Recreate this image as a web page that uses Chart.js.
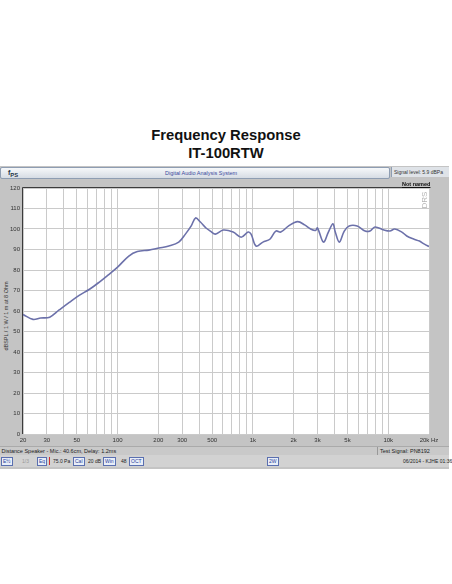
<!DOCTYPE html>
<html>
<head>
<meta charset="utf-8">
<script src="https://cdn.jsdelivr.net/npm/chart.js@4.4.0/dist/chart.umd.min.js"></script>
<style>
    body { margin: 0; width: 452px; height: 584px; background: #fff; font-family: "Liberation Sans", Arial, sans-serif; position: relative; overflow: hidden; }
    .title { position: absolute; top: 126px; left: 0; width: 452px; text-align: center; font-weight: bold; font-size: 14.8px; line-height: 18px; color: #111; }
    .win { position: absolute; top: 166px; left: 0; width: 449px; height: 303px; background: #c4c4c4; }
    .bar { position: absolute; top: 167px; left: 0; width: 388px; height: 10px; background: linear-gradient(#f6f8fa, #d6dce4); border: 1px solid #8e9db2; border-radius: 2px; }
    .bar span { position: absolute; left: 164px; top: 2px; font-size: 5.5px; color: #3a4a9c; white-space: nowrap; }
    .sig { position: absolute; top: 167px; left: 391px; width: 58px; height: 10px; background: #dfe3e8; border-left: 1px solid #8e9db2; font-size: 5px; color: #333; line-height: 10px; padding-left: 2px; box-sizing: border-box; white-space: nowrap; }
    .icon { position: absolute; top: 169px; left: 8px; font-size: 7px; font-weight: bold; color: #234; }
    .named { position: absolute; top: 181px; left: 402px; font-size: 5.5px; font-weight: bold; text-decoration: underline; color: #111; white-space: nowrap; z-index: 2; }
    .ytitle { position: absolute; left: 6px; top: 316px; font-size: 5.5px; color: #333; white-space: nowrap; transform: translate(-50%, -50%) rotate(-90deg); }
    .status { position: absolute; top: 446px; left: 0; width: 449px; height: 8px; background: #c9c9c9; border-top: 1px solid #aaa; font-size: 5.5px; color: #222; line-height: 8px; white-space: nowrap; }
    .status .r { position: absolute; left: 377px; top: 0; border-left: 1px solid #999; padding-left: 2px; width: 70px; }
    .btns { position: absolute; top: 455px; left: 0; width: 449px; height: 12px; background: #d2d2d2; font-size: 5px; color: #222; white-space: nowrap; }
    .btns b { position: absolute; top: 2px; height: 7px; line-height: 7px; padding: 0 1px; border: 1px solid #5a6fb0; background: #e8eef8; color: #2a3f9c; font-weight: normal; }
    .btns i { position: absolute; top: 3px; font-style: normal; }
    #wrap { position: absolute; left: 0; top: 180px; width: 449px; height: 265px; }
</style>
</head>
<body>
<div class="title">Frequency Response<br>IT-100RTW</div>
<div class="win"></div>
<div class="bar"><span>Digital Audio Analysis System</span></div>
<div class="icon">f<sub>PS</sub></div>
<div class="sig">Signal level: 5.9 dBPa</div>
<div class="ytitle">dBSPL / 1 W / 1 m at 8 Ohm</div>
<div class="status">&nbsp;Distance Speaker - Mic.: 40.6cm, Delay: 1.2ms<span class="r">Test Signal: PN8192</span></div>
<div class="btns">
    <b style="left:1px">E½</b>
    <i style="left:22px;color:#999">1/3</i>
    <b style="left:37px">Eq</b>
    <i style="left:49px;top:2px;width:1px;height:8px;background:#d03030"></i>
    <i style="left:53px">75.0 Pa</i>
    <b style="left:73px">Cal</b>
    <i style="left:88px">20 dB</i>
    <b style="left:103px">Win</b>
    <i style="left:121px">48</i>
    <b style="left:129px">OCT</b>
    <b style="left:267px">2W</b>
    <i style="left:403px">06/2014 - KJHE 01:36</i>
</div>
<div id="wrap"><canvas id="fr"></canvas></div>
<div class="named">Not named</div>
<script>
const freqs = [20, 23.7, 27, 31.5, 37, 44, 52, 62, 73, 85, 100, 121, 140, 170, 202, 239, 283, 317, 350, 377, 409, 450, 485, 528, 604, 714, 818, 921, 969, 1054, 1186, 1334, 1477, 1607, 1837, 2140, 2410, 2670, 2900, 3000, 3320, 3610, 3900, 4060, 4350, 4730, 5140, 5890, 6740, 7330, 7970, 9290, 10280, 11170, 12600, 13700, 15400, 17000, 18500, 20000];
const splValues = [58.3, 55.9, 56.6, 57.0, 60.5, 64.2, 67.6, 70.6, 74.0, 77.5, 81.4, 86.8, 89.0, 89.7, 90.7, 91.7, 93.6, 97.5, 101.5, 105.4, 103.4, 100.5, 99.0, 97.5, 99.5, 98.5, 96.0, 98.5, 97.5, 91.7, 93.6, 95.0, 99.0, 98.5, 101.5, 103.6, 102.0, 100.0, 99.3, 100.5, 93.6, 98.5, 102.5, 98.5, 93.6, 99.0, 101.5, 101.5, 99.0, 99.0, 101.0, 99.5, 99.0, 100.0, 98.5, 96.6, 95.1, 94.1, 92.6, 91.5];

// axis ticks
const gridFreqs = [20, 30, 40, 50, 60, 70, 80, 90, 100, 200, 300, 400, 500, 600, 700, 800, 900, 1000, 2000, 3000, 4000, 5000, 6000, 7000, 8000, 9000, 10000, 20000];
const freqLabels = { 20: '20', 30: '30', 50: '50', 100: '100', 200: '200', 300: '300', 500: '500', 1000: '1k', 2000: '2k', 3000: '3k', 5000: '5k', 10000: '10k', 20000: '20k Hz' };

const plotFrame = {
    id: 'plotFrame',
    beforeDraw(chart) {
        const { ctx, chartArea: a } = chart;
        ctx.save();
        ctx.fillStyle = '#ffffff';
        ctx.fillRect(a.left, a.top, a.right - a.left, a.bottom - a.top);
        ctx.restore();
    },
    afterDraw(chart) {
        const { ctx, chartArea: a } = chart;
        ctx.save();
        ctx.strokeStyle = '#3c3c3c';
        ctx.lineWidth = 1;
        ctx.beginPath();
        ctx.moveTo(a.left - 0.5, a.bottom);
        ctx.lineTo(a.left - 0.5, a.top - 0.5);
        ctx.lineTo(a.right, a.top - 0.5);
        ctx.stroke();
        // faint vertical watermark
        ctx.translate(a.right - 4, a.top + 12);
        ctx.rotate(-Math.PI / 2);
        ctx.fillStyle = '#b4b4b4';
        ctx.font = '8px "Liberation Sans", Arial';
        ctx.textAlign = 'center';
        ctx.textBaseline = 'middle';
        ctx.fillText('DRS', 0, 0);
        ctx.restore();
    }
};

new Chart(document.getElementById('fr'), {
    type: 'line',
    data: {
        datasets: [{
            data: freqs.map((f, i) => ({ x: f, y: splValues[i] })),
            borderColor: '#6c71aa',
            borderWidth: 1.6,
            pointRadius: 0,
            tension: 0.35,
            fill: false
        }]
    },
    options: {
        responsive: true,
        maintainAspectRatio: false,
        animation: false,
        layout: { padding: { top: 8, right: 20, left: 0, bottom: 0 } },
        plugins: { legend: { display: false }, tooltip: { enabled: false } },
        scales: {
            x: {
                type: 'logarithmic',
                min: 20,
                max: 20000,
                afterBuildTicks: s => { s.ticks = gridFreqs.map(v => ({ value: v })); },
                afterFit: s => { s.height = 11; },
                ticks: {
                    autoSkip: false,
                    maxRotation: 0,
                    padding: 3,
                    color: '#333',
                    font: { size: 6, family: '"Liberation Sans", Arial' },
                    callback: v => freqLabels[v] || ''
                },
                grid: { color: '#cacaca', drawTicks: false },
                border: { display: false }
            },
            y: {
                min: 0,
                max: 120,
                afterFit: s => { s.width = 23; },
                ticks: {
                    stepSize: 10,
                    padding: 3,
                    color: '#333',
                    font: { size: 6, family: '"Liberation Sans", Arial' }
                },
                grid: { color: '#cacaca', drawTicks: false },
                border: { display: false }
            }
        }
    },
    plugins: [plotFrame]
});
</script>
</body>
</html>
